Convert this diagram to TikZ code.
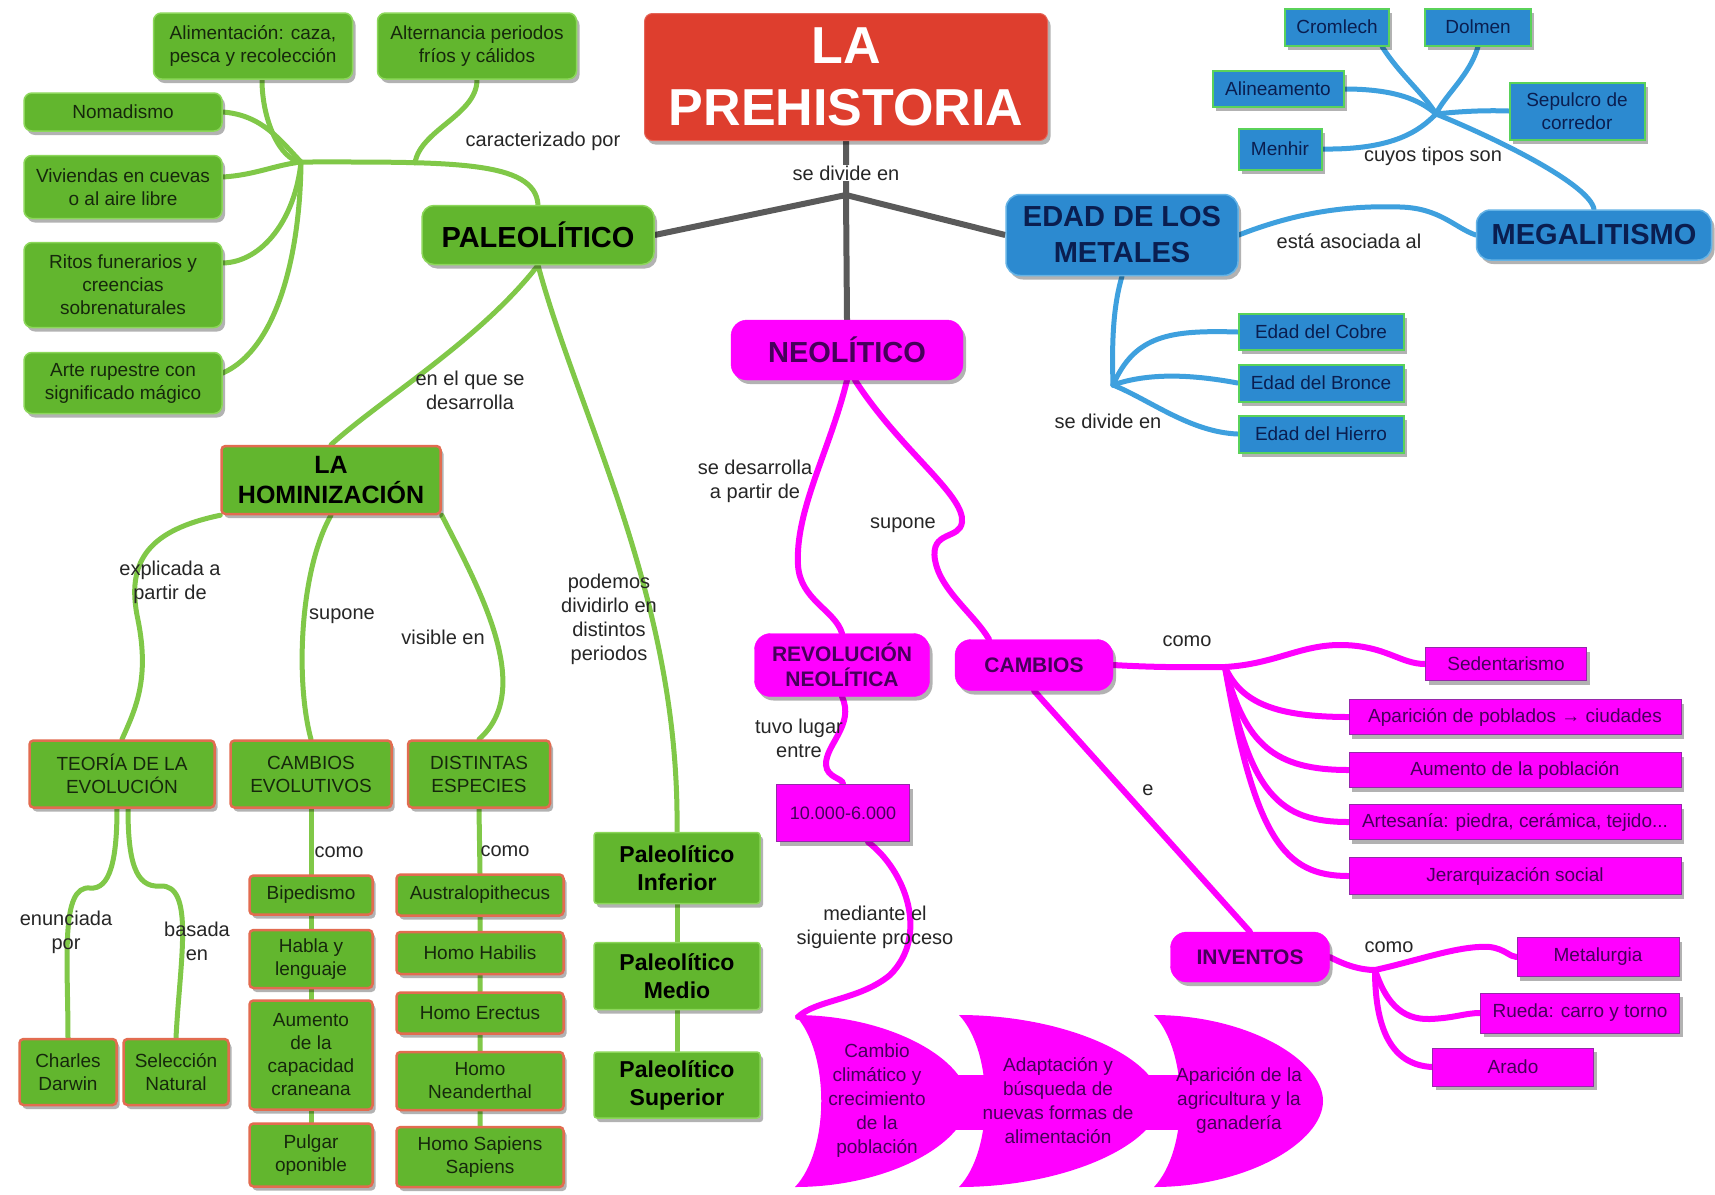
\documentclass[tikz,border=0pt]{standalone}
\usepackage{fontspec}
\setmainfont{Liberation Sans}
\usetikzlibrary{shadows,calc}
\definecolor{gfill}{RGB}{98,182,46}
\definecolor{gline}{RGB}{128,200,72}
\definecolor{gborder}{RGB}{140,215,90}
\definecolor{rborder}{RGB}{226,108,80}
\definecolor{bfill}{RGB}{44,138,208}
\definecolor{bline}{RGB}{62,160,222}
\definecolor{bborder}{RGB}{90,210,90}
\definecolor{mag}{RGB}{255,0,255}
\definecolor{mborder}{RGB}{150,40,170}
\definecolor{redt}{RGB}{222,62,46}
\definecolor{grayl}{RGB}{90,90,90}
\definecolor{gtext}{RGB}{22,40,12}
\definecolor{btext}{RGB}{10,30,80}
\definecolor{mtext}{RGB}{70,0,90}
\pgfdeclarelayer{bg}
\pgfdeclarelayer{lines}
\pgfsetlayers{bg,lines,main}
\newcommand\procshape[2]{\fill[mag] (#1,1015) .. controls ({#1+0.55*(#2-#1)},1015) and (#2,1060) .. (#2,1101) .. controls (#2,1142) and ({#1+0.55*(#2-#1)},1187) .. (#1,1187) .. controls ({#1+35},1150) and ({#1+35},1052) .. cycle;}
\begin{document}
\begin{tikzpicture}[x=1pt,y=-1pt,
  sz/.style 2 args={minimum width=#1pt,minimum height=#2pt},
  shd/.style={drop shadow={shadow xshift=3pt,shadow yshift=-4pt,opacity=0.3,fill=black}},
  base/.style={align=center,inner sep=2pt},
  titlebox/.style={base,shd,fill=redt,draw=redt!80!white,line width=1pt,rounded corners=8pt,font=\fontsize{52}{62}\selectfont\bfseries,text=white},
  gbig/.style={base,shd,fill=gfill,draw=gborder,line width=1.5pt,rounded corners=12pt,font=\fontsize{29}{34}\selectfont\bfseries,text=black},
  gsm/.style={base,shd,fill=gfill,draw=gborder,line width=1.5pt,rounded corners=8pt,font=\fontsize{19}{23}\selectfont,text=gtext},
  ghm/.style={base,shd,fill=gfill,draw=rborder,line width=2.5pt,rounded corners=4pt,font=\fontsize{19}{23}\selectfont,text=gtext},
  ghtitle/.style={ghm,font=\fontsize{25}{30}\selectfont\bfseries,text=black},
  gper/.style={base,shd,fill=gfill,draw=gborder,line width=1.5pt,rounded corners=3pt,font=\fontsize{23}{28}\selectfont\bfseries,text=black},
  bbig/.style={base,shd,fill=bfill,draw=bline!80!white,line width=1.5pt,rounded corners=14pt,font=\fontsize{29}{36}\selectfont\bfseries,text=btext},
  bsm/.style={base,shd,fill=bfill,draw=bborder,line width=2pt,font=\fontsize{19}{23}\selectfont,text=btext},
  mbig/.style={base,shd,fill=mag,draw=mag,rounded corners=16pt,font=\fontsize{21}{25}\selectfont\bfseries,text=mtext},
  msm/.style={base,shd,fill=mag,draw=mborder,line width=1pt,font=\fontsize{19}{23}\selectfont,text=mtext},
  ptext/.style={align=center,inner sep=0pt,font=\fontsize{19}{24}\selectfont,text=mtext},
  lbl/.style={font=\fontsize{20}{24}\selectfont,text=black!85,align=center,inner sep=1pt},
  glink/.style={draw=gline,line width=5pt,line cap=round},
  mlink/.style={draw=mag,line width=6pt,line cap=round},
  blink/.style={draw=bline,line width=5pt,line cap=round},
  graylink/.style={draw=grayl,line width=6pt,line join=round}]
\begin{pgfonlayer}{bg}
\fill[white] (0,0) rectangle (1715,1194);
\end{pgfonlayer}
\useasboundingbox (0,0) rectangle (1715,1194);

% main nodes
\node[titlebox,sz={403}{127}] (title) at (846,77) {LA\\PREHISTORIA};
\node[gbig,sz={232}{59}] (paleo) at (538,235) {PALEOLÍTICO};
\node[mbig,sz={232}{60},font=\fontsize{29}{34}\selectfont\bfseries] (neo) at (847,350) {NEOLÍTICO};
\node[bbig,sz={232}{81}] (metales) at (1122,235) {EDAD DE LOS\\METALES};
\node[bbig,sz={235}{50}] (mega) at (1594,235) {MEGALITISMO};

% megalith types
\node[bsm,sz={104}{37}] (cromlech) at (1337,27) {Cromlech};
\node[bsm,sz={106}{37}] (dolmen) at (1478,27) {Dolmen};
\node[bsm,sz={131}{36}] (alineamento) at (1278,89) {Alineamento};
\node[bsm,sz={135}{57}] (sepulcro) at (1577,111) {Sepulcro de\\corredor};
\node[bsm,sz={83}{41}] (menhir) at (1280,149) {Menhir};

% metal ages
\node[bsm,sz={165}{36}] (cobre) at (1321,332) {Edad del Cobre};
\node[bsm,sz={165}{37}] (bronce) at (1321,383) {Edad del Bronce};
\node[bsm,sz={165}{37}] (hierro) at (1321,434) {Edad del Hierro};

% paleolithic characteristics
\node[gsm,sz={199}{66}] (alim) at (253,46) {Alimentación: caza,\\pesca y recolección};
\node[gsm,sz={199}{66}] (altern) at (477,46) {Alternancia periodos\\fríos y cálidos};
\node[gsm,sz={198}{38}] (nomad) at (123,112) {Nomadismo};
\node[gsm,sz={198}{63}] (viviendas) at (123,187) {Viviendas en cuevas\\o al aire libre};
\node[gsm,sz={198}{85}] (ritos) at (123,285) {Ritos funerarios y\\creencias\\sobrenaturales};
\node[gsm,sz={198}{61}] (arte) at (123,383) {Arte rupestre con\\significado mágico};

% hominization
\node[ghtitle,sz={219}{68}] (hom) at (331,480) {LA\\HOMINIZACIÓN};
\node[ghm,sz={185}{67}] (teoria) at (122,774) {TEORÍA DE LA\\EVOLUCIÓN};
\node[ghm,sz={161}{67}] (cambev) at (311,774) {CAMBIOS\\EVOLUTIVOS};
\node[ghm,sz={142}{67}] (distintas) at (479,774) {DISTINTAS\\ESPECIES};
\node[ghm,sz={97}{66}] (darwin) at (68,1072) {Charles\\Darwin};
\node[ghm,sz={105}{66}] (seleccion) at (176,1072) {Selección\\Natural};
\node[ghm,sz={123}{39}] (biped) at (311,895) {Bipedismo};
\node[ghm,sz={123}{58}] (habla) at (311,959) {Habla y\\lenguaje};
\node[ghm,sz={123}{109}] (aumento) at (311,1055) {Aumento\\de la\\capacidad\\craneana};
\node[ghm,sz={123}{63}] (pulgar) at (311,1155) {Pulgar\\oponible};
\node[ghm,sz={167}{41}] (austral) at (480,895) {Australopithecus};
\node[ghm,sz={167}{42}] (habilis) at (480,953) {Homo Habilis};
\node[ghm,sz={167}{41}] (erectus) at (480,1013) {Homo Erectus};
\node[ghm,sz={167}{58}] (neander) at (480,1081) {Homo\\Neanderthal};
\node[ghm,sz={167}{60}] (sapiens) at (480,1157) {Homo Sapiens\\Sapiens};

% periods
\node[gper,sz={166}{71}] (pinf) at (677,868) {Paleolítico\\Inferior};
\node[gper,sz={166}{67}] (pmed) at (677,976) {Paleolítico\\Medio};
\node[gper,sz={166}{66}] (psup) at (677,1085) {Paleolítico\\Superior};

% neolithic
\node[mbig,sz={175}{63}] (revol) at (842,665) {REVOLUCIÓN\\NEOLÍTICA};
\node[mbig,sz={158}{51}] (cambios) at (1034,665) {CAMBIOS};
\node[msm,sz={133}{57},font=\fontsize{18}{22}\selectfont] (fecha) at (843,813) {10.000-6.000};
\node[msm,sz={161}{33}] (sedent) at (1506,664) {Sedentarismo};
\node[msm,sz={332}{35}] (aparic) at (1515,717) {Aparición de poblados → ciudades};
\node[msm,sz={332}{35}] (aument) at (1515,770) {Aumento de la población};
\node[msm,sz={332}{35}] (artes) at (1515,822) {Artesanía: piedra, cerámica, tejido...};
\node[msm,sz={332}{37}] (jerarq) at (1515,876) {Jerarquización social};
\node[mbig,sz={159}{50}] (inventos) at (1250,957) {INVENTOS};
\node[msm,sz={162}{39}] (metal) at (1598,957) {Metalurgia};
\node[msm,sz={199}{40}] (rueda) at (1580,1013) {Rueda: carro y torno};
\node[msm,sz={161}{38}] (arado) at (1513,1067) {Arado};

% process shapes
\fill[mag] (940,1075) rectangle (1000,1130);
\fill[mag] (1135,1075) rectangle (1195,1130);
\procshape{795}{968}
\procshape{959}{1160}
\procshape{1154}{1323}
\node[ptext] (t1) at (877,1101) {Cambio\\climático y\\crecimiento\\de la\\población};
\node[ptext] (t2) at (1058,1101) {Adaptación y\\búsqueda de\\nuevas formas de\\alimentación};
\node[ptext] (t3) at (1239,1100) {Aparición de la\\agricultura y la\\ganadería};

% junction coordinates
\coordinate (dj) at (846,195);
\coordinate (gj) at (301,162);
\coordinate (gj2) at (415,163);
\coordinate (mgj) at (1436,114);
\coordinate (mj) at (1113,385);
\coordinate (cj) at (1225,667);
\coordinate (ij) at (1375,970);
\coordinate (p1tl) at (798,1017);

\begin{pgfonlayer}{lines}
% gray
\draw[graylink] (title.south) -- (dj) -- (paleo.east);
\draw[graylink] (dj) -- (neo.north);
\draw[graylink] (dj) -- (metales.west);
% green
\draw[glink] ($(alim.south)+(9,0)$) .. controls (262,120) and (280,160) .. (gj);
\draw[glink] (nomad.east) .. controls (262,115) and (280,140) .. (gj);
\draw[glink] ($(viviendas.east)+(0,-10)$) .. controls (255,175) and (275,165) .. (gj);
\draw[glink] ($(ritos.east)+(0,-22)$) .. controls (262,262) and (295,220) .. (gj);
\draw[glink] ($(arte.east)+(0,-10)$) .. controls (275,350) and (300,260) .. (gj);
\draw[glink] (gj) .. controls (450,162) and (535,160) .. (paleo.north);
\draw[glink] (altern.south) .. controls (477,115) and (420,130) .. (gj2);
\draw[glink] (paleo.south) .. controls (480,340) and (380,400) .. (hom.north);
\draw[glink] (paleo.south) .. controls (580,420) and (680,600) .. (pinf.north);
\draw[glink] (hom.south west) .. controls (150,530) and (125,560) .. (138,620) .. controls (150,680) and (135,710) .. (teoria.north);
\draw[glink] (hom.south) .. controls (300,570) and (295,680) .. (cambev.north);
\draw[glink] (hom.south east) .. controls (480,590) and (535,690) .. (distintas.north);
\draw[glink] ($(teoria.south)+(-5,0)$) .. controls (117,860) and (110,890) .. (90,888) .. controls (60,885) and (68,960) .. (darwin.north);
\draw[glink] ($(teoria.south)+(6,0)$) .. controls (128,860) and (135,888) .. (160,886) .. controls (195,884) and (180,960) .. (seleccion.north);
\draw[glink] (cambev.south) -- (biped.north) (biped.south) -- (habla.north) (habla.south) -- (aumento.north) (aumento.south) -- (pulgar.north);
\draw[glink] (distintas.south) -- (austral.north) (austral.south) -- (habilis.north) (habilis.south) -- (erectus.north) (erectus.south) -- (neander.north) (neander.south) -- (sapiens.north);
\draw[glink] (pinf.south) -- (pmed.north) (pmed.south) -- (psup.north);
% magenta
\draw[mlink] (neo.south) .. controls (830,450) and (795,510) .. (798,565) .. controls (800,600) and (835,610) .. (revol.north);
\draw[mlink] ($(neo.south)+(8,0)$) .. controls (900,450) and (965,495) .. (962,522) .. controls (960,540) and (930,530) .. (935,560) .. controls (940,590) and (975,615) .. ($(cambios.north)+(-45,0)$);
\draw[mlink] (revol.south) .. controls (855,725) and (825,745) .. (826,765) .. controls (827,778) and (843,778) .. (fecha.north);
\draw[mlink] ($(fecha.south)+(25,0)$) .. controls (905,870) and (930,935) .. (890,975) .. controls (860,1000) and (815,1000) .. (p1tl);
\draw[mlink] (cambios.east) .. controls (1165,668) and (1195,667) .. (cj);
\draw[mlink] (cj) .. controls (1275,664) and (1300,645) .. (1340,645) .. controls (1385,645) and (1400,664) .. (sedent.west);
\draw[mlink] (cj) .. controls (1240,700) and (1270,717) .. (aparic.west);
\draw[mlink] (cj) .. controls (1245,745) and (1275,770) .. (aument.west);
\draw[mlink] (cj) .. controls (1250,795) and (1280,822) .. (artes.west);
\draw[mlink] (cj) .. controls (1255,840) and (1285,876) .. (jerarq.west);
\draw[mlink] (cambios.south) -- (inventos.north);
\draw[mlink] (inventos.east) .. controls (1345,965) and (1360,970) .. (ij);
\draw[mlink] (ij) .. controls (1420,960) and (1460,945) .. (1490,947) .. controls (1505,949) and (1510,957) .. (metal.west);
\draw[mlink] (ij) .. controls (1385,1000) and (1400,1020) .. (1430,1019) .. controls (1455,1018) and (1465,1013) .. (rueda.west);
\draw[mlink] (ij) .. controls (1375,1035) and (1395,1065) .. (arado.west);
% blue
\draw[blink] (metales.east) .. controls (1290,215) and (1340,205) .. (1400,207) .. controls (1440,208) and (1455,228) .. (mega.west);
\draw[blink] (metales.south) .. controls (1112,310) and (1112,350) .. (mj);
\draw[blink] (mj) .. controls (1135,335) and (1170,330) .. (cobre.west);
\draw[blink] (mj) .. controls (1150,372) and (1195,375) .. (bronce.west);
\draw[blink] (mj) .. controls (1150,400) and (1190,432) .. (hierro.west);
\draw[blink] ($(cromlech.south east)+(-8,0)$) .. controls (1400,75) and (1425,95) .. (mgj);
\draw[blink] (dolmen.south) .. controls (1470,75) and (1445,95) .. (mgj);
\draw[blink] (alineamento.east) .. controls (1395,89) and (1420,100) .. (mgj);
\draw[blink] (sepulcro.west) .. controls (1480,110) and (1455,112) .. (mgj);
\draw[blink] (menhir.east) .. controls (1395,150) and (1420,130) .. (mgj);
\draw[blink] (mgj) .. controls (1500,140) and (1590,185) .. (mega.north);
\end{pgfonlayer}

% labels
\node[lbl,fill=white] (l1) at (846,173) {se divide en};
\node[lbl] (l2) at (543,141) {caracterizado por};
\node[lbl] (l3) at (470,390) {en el que se\\desarrolla};
\node[lbl] (l4) at (170,582) {explicada a\\partir de};
\node[lbl] (l5) at (342,616) {supone};
\node[lbl] (l6) at (443,637) {visible en};
\node[lbl] (l7) at (609,619) {podemos\\dividirlo en\\distintos\\periodos};
\node[lbl] (l8) at (66,932) {enunciada\\por};
\node[lbl] (l9) at (197,941) {basada\\en};
\node[lbl] (l10) at (339,852) {como};
\node[lbl] (l11) at (505,851) {como};
\node[lbl] (l12) at (755,481) {se desarrolla\\a partir de};
\node[lbl] (l13) at (903,525) {supone};
\node[lbl] (l14) at (799,738) {tuvo lugar\\entre};
\node[lbl] (l15) at (875,927) {mediante el\\siguiente proceso};
\node[lbl] (l16) at (1187,641) {como};
\node[lbl] (l17) at (1148,790) {e};
\node[lbl] (l18) at (1389,947) {como};
\node[lbl] (l19) at (1349,241) {está asociada al};
\node[lbl] (l20) at (1108,421) {se divide en};
\node[lbl] (l21) at (1433,156) {cuyos tipos son};
\end{tikzpicture}
\end{document}
